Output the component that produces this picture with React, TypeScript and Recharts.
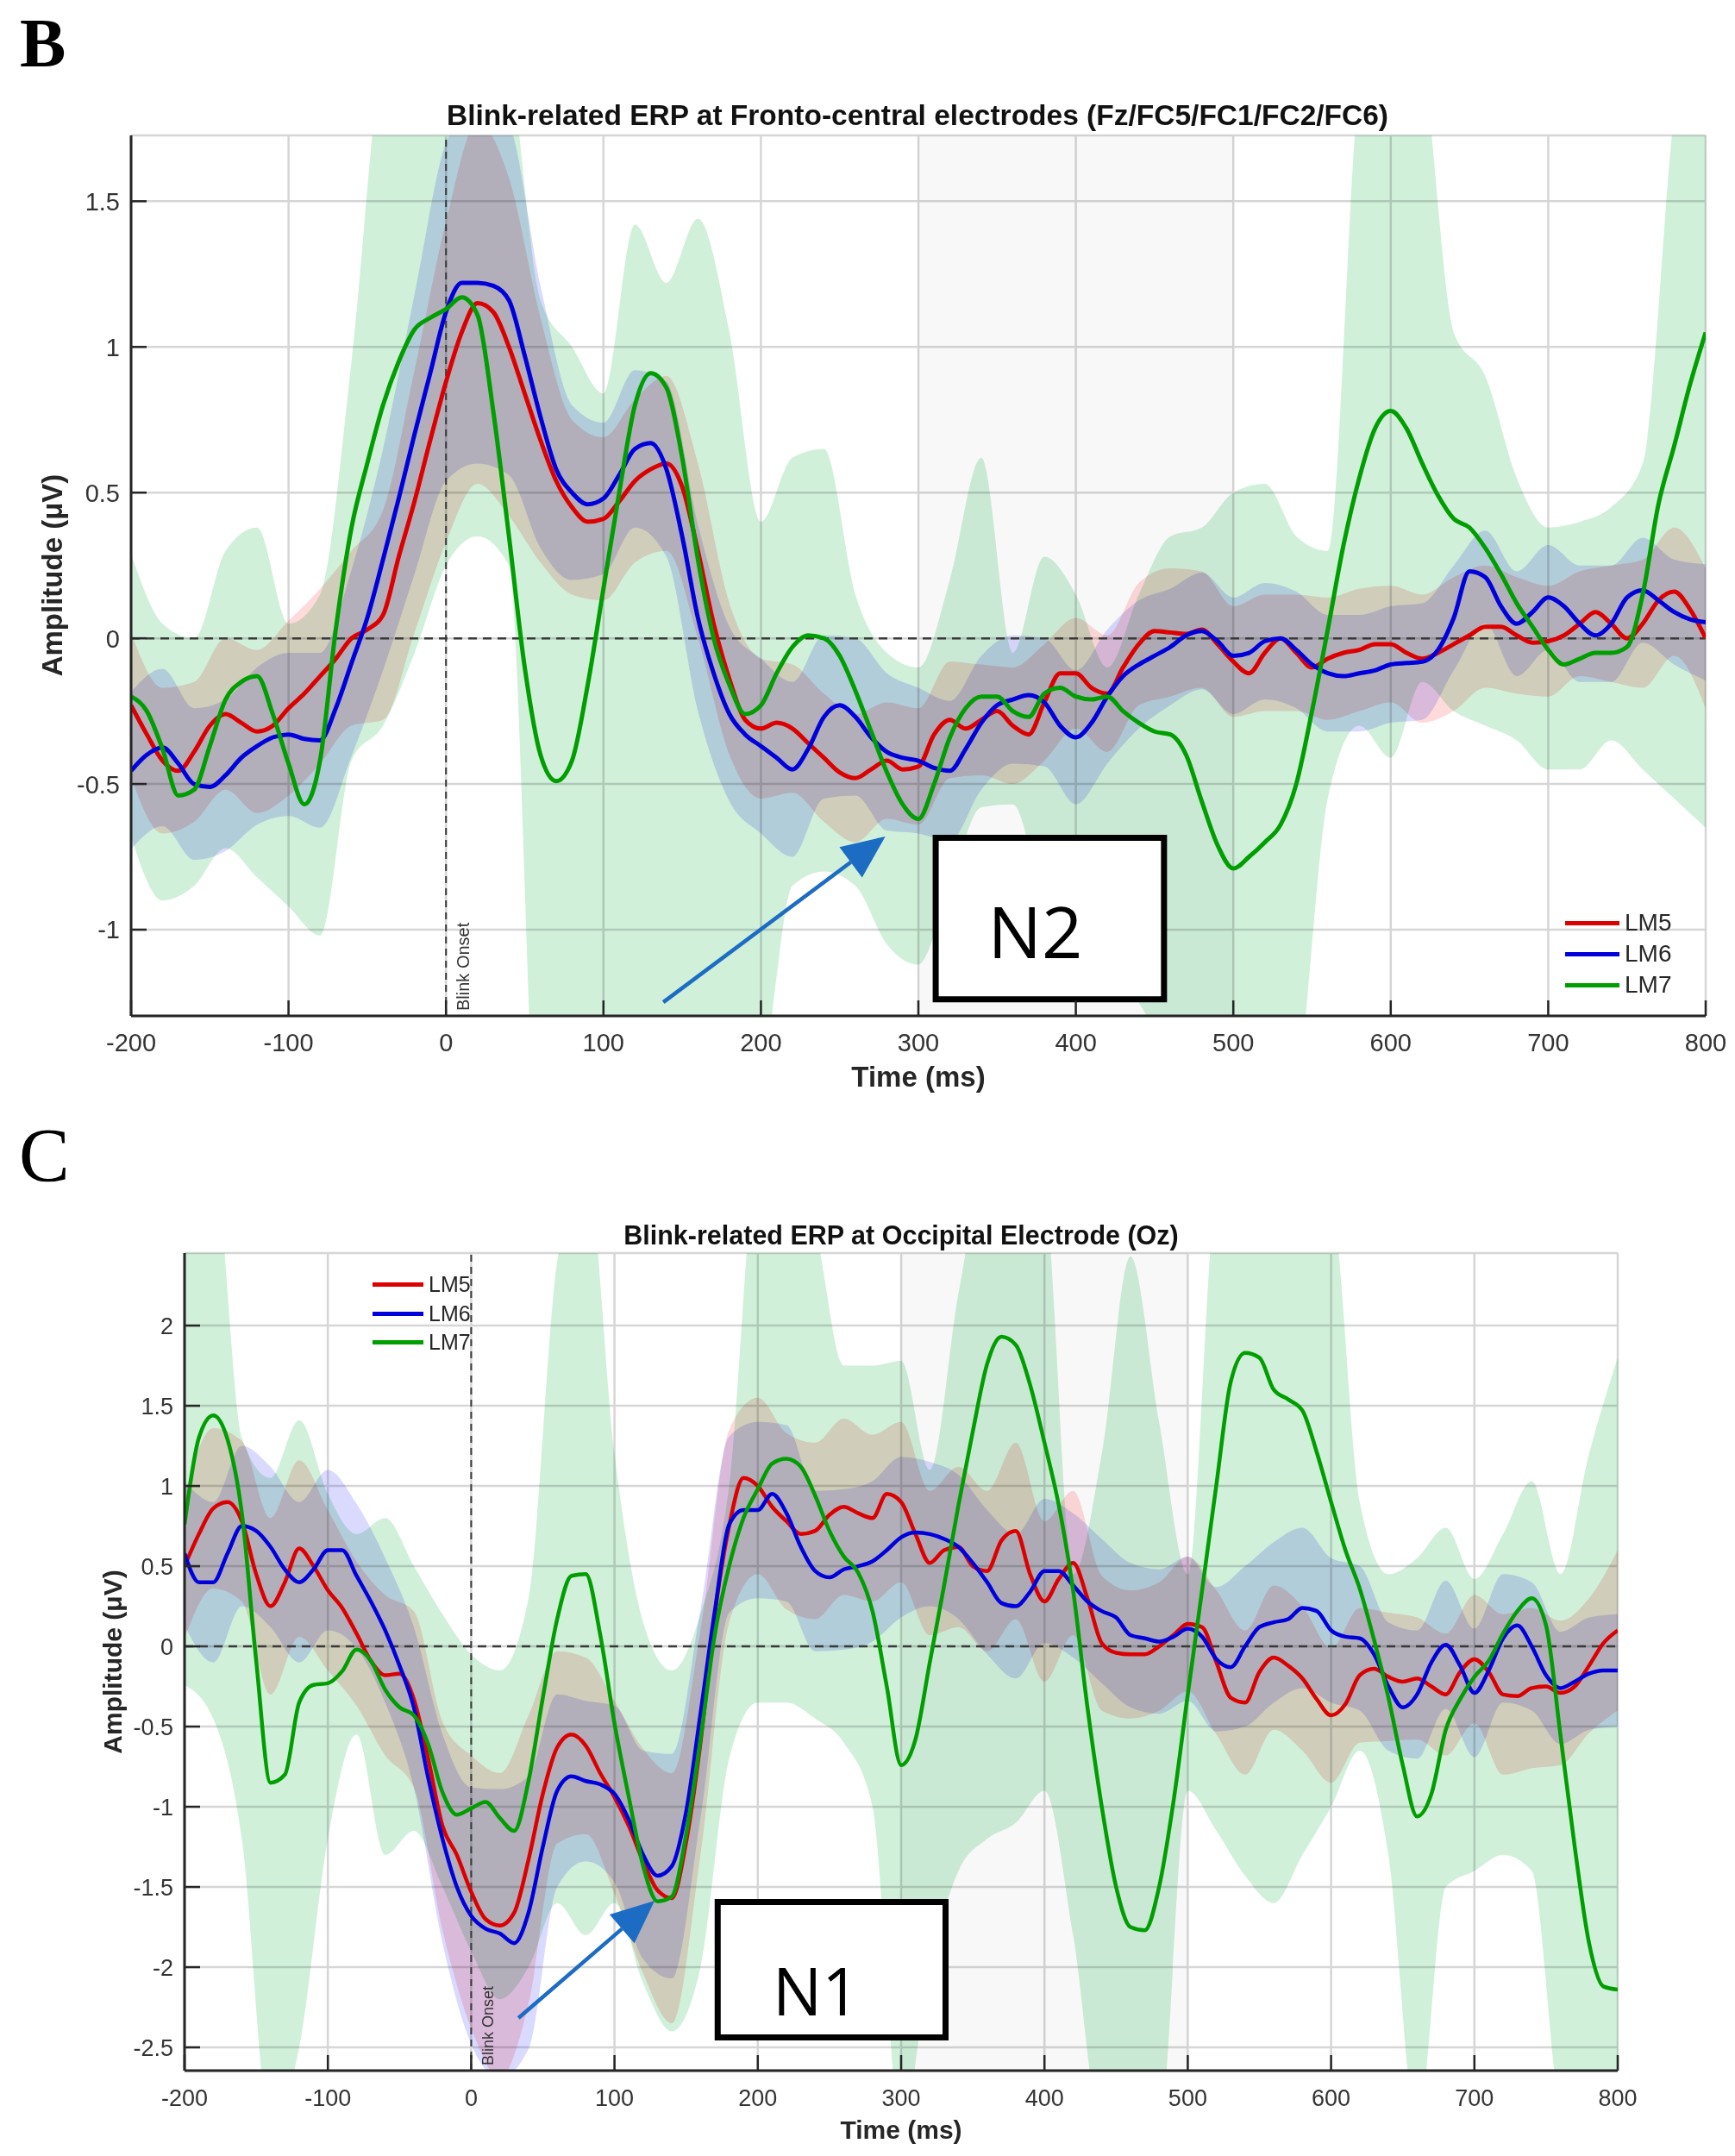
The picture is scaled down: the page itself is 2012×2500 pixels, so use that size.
import React from "react";
import {
  ComposedChart,
  Line,
  Area,
  XAxis,
  YAxis,
  CartesianGrid,
  ReferenceLine,
  ReferenceArea,
  Legend,
} from "recharts";

const SANS = "'Liberation Sans', Arial, Helvetica, sans-serif";
const SERIF = "'Liberation Serif', 'Times New Roman', serif";
const BOX_FONT = "'Open Sans', 'Noto Sans', sans-serif";
const AXIS = "#262626";
const TICK_TEXT = "#333";
const ARROW = "#1c6cc4";

// averages are sampled every 10 ms, the shaded error bands every 20 ms
const TIME_MS = Array.from({ length: 101 }, (_, i) => -200 + i * 10);
const BAND_MS = Array.from({ length: 51 }, (_, i) => -200 + i * 20);

const X_TICKS = [-200, -100, 0, 100, 200, 300, 400, 500, 600, 700, 800];
const B_Y_TICKS = [-1, -0.5, 0, 0.5, 1, 1.5];
const C_Y_TICKS = [-2.5, -2, -1.5, -1, -0.5, 0, 0.5, 1, 1.5, 2];

const SERIES = [
  { key: "lm5", name: "LM5", color: "#dd0000", band: "#ffdada" },
  { key: "lm6", name: "LM6", color: "#0000dd", band: "#dadaff" },
  { key: "lm7", name: "LM7", color: "#009e00", band: "#d0f0da" },
];

// ---- B: fronto-central electrodes ----
const B_LM5 = [
  -0.23, -0.33, -0.42, -0.455, -0.39, -0.3, -0.26, -0.29, -0.32, -0.3,
  -0.24, -0.19, -0.13, -0.07, 0.0, 0.03, 0.08, 0.28, 0.47, 0.68,
  0.88, 1.05, 1.15, 1.12, 1.0, 0.84, 0.68, 0.54, 0.45, 0.4,
  0.41, 0.47, 0.54, 0.58, 0.6, 0.52, 0.3, 0.05, -0.14, -0.28,
  -0.31, -0.29, -0.31, -0.36, -0.41, -0.46, -0.48, -0.45, -0.42, -0.45,
  -0.44, -0.33, -0.28, -0.31, -0.28, -0.25, -0.3, -0.33, -0.22, -0.12,
  -0.12, -0.17, -0.19, -0.1, -0.02, 0.025, 0.02, 0.015, 0.03, -0.02,
  -0.08, -0.12, -0.05, 0.0, -0.05, -0.1, -0.07, -0.05, -0.04, -0.02,
  -0.02, -0.05, -0.07, -0.05, -0.02, 0.01, 0.04, 0.04, 0.01, -0.015,
  -0.01, 0.01, 0.05, 0.09, 0.05, 0.0, 0.05, 0.13, 0.16, 0.1,
  0.0,
];
const B_LM6 = [
  -0.455, -0.4, -0.375, -0.43, -0.5, -0.51, -0.47, -0.41, -0.37, -0.34,
  -0.33, -0.345, -0.35, -0.24, -0.085, 0.07, 0.27, 0.48, 0.7, 0.91,
  1.12, 1.22, 1.22, 1.21, 1.16, 0.97, 0.76, 0.58, 0.5, 0.46,
  0.48, 0.56, 0.65, 0.67, 0.58, 0.35, 0.07, -0.12, -0.26, -0.33,
  -0.37, -0.41, -0.45, -0.38, -0.27, -0.23, -0.27, -0.34, -0.39, -0.41,
  -0.42, -0.445, -0.455, -0.38, -0.29, -0.23, -0.21, -0.195, -0.22, -0.3,
  -0.34, -0.29, -0.2, -0.13, -0.09, -0.06, -0.03, 0.01, 0.025, -0.01,
  -0.06, -0.05, -0.01, 0.0, -0.04, -0.09, -0.12, -0.13, -0.12, -0.11,
  -0.09, -0.085, -0.08, -0.04, 0.07, 0.23, 0.21, 0.11, 0.05, 0.09,
  0.14, 0.11, 0.05, 0.01, 0.05, 0.14, 0.165, 0.13, 0.09, 0.065,
  0.055,
];
const B_LM7 = [
  -0.2, -0.25, -0.38, -0.54, -0.52, -0.37, -0.21, -0.15, -0.13, -0.26,
  -0.43, -0.57, -0.42, 0.03, 0.38, 0.6, 0.8, 0.95, 1.06, 1.1,
  1.13, 1.17, 1.11, 0.78, 0.35, -0.1, -0.4, -0.49, -0.42, -0.16,
  0.17, 0.5, 0.8, 0.91, 0.86, 0.62, 0.27, 0.0, -0.16, -0.26,
  -0.23, -0.12, -0.03, 0.01, 0.0, -0.06, -0.18, -0.32, -0.46, -0.57,
  -0.62, -0.5, -0.34, -0.24, -0.2, -0.2, -0.25, -0.27, -0.19, -0.17,
  -0.2, -0.21, -0.2, -0.25, -0.29, -0.32, -0.33, -0.4, -0.56, -0.71,
  -0.79, -0.75, -0.7, -0.64, -0.5, -0.25, 0.03, 0.32, 0.55, 0.72,
  0.78, 0.72, 0.6, 0.49, 0.41, 0.38, 0.31, 0.22, 0.12, 0.04,
  -0.04, -0.09, -0.07, -0.05, -0.05, -0.03, 0.15, 0.46, 0.66, 0.87,
  1.05,
];
const B_LM5_SE = [
  0.25, 0.25, 0.24, 0.26, 0.28, 0.3, 0.3, 0.3, 0.36, 0.45,
  0.55, 0.62, 0.58, 0.42, 0.3, 0.28, 0.28, 0.3, 0.3, 0.26,
  0.24, 0.22, 0.22, 0.22, 0.2, 0.2, 0.2, 0.19, 0.2, 0.2,
  0.19, 0.2, 0.21, 0.22, 0.2, 0.19, 0.2, 0.2, 0.21, 0.21,
  0.2, 0.22, 0.23, 0.21, 0.2, 0.19, 0.18, 0.2, 0.22, 0.22,
  0.24,
];
const B_LM6_SE = [
  0.27, 0.27, 0.26, 0.26, 0.27, 0.28, 0.3, 0.32, 0.38, 0.48,
  0.58, 0.62, 0.6, 0.45, 0.3, 0.26, 0.27, 0.3, 0.32, 0.3,
  0.3, 0.3, 0.28, 0.27, 0.27, 0.25, 0.24, 0.23, 0.22, 0.22,
  0.23, 0.23, 0.22, 0.2, 0.2, 0.2, 0.2, 0.2, 0.2, 0.2,
  0.2, 0.2, 0.18, 0.16, 0.18, 0.18, 0.2, 0.2, 0.18, 0.18,
  0.2,
];
const B_LM7_HI = [
  0.29, 0.05, 0.0, 0.3, 0.38, 0.05, 0.15, 0.95, 2.0, 2.2,
  2.3, 2.3, 2.0, 1.16, 1.0, 0.84, 1.42, 1.22, 1.44, 1.05,
  0.4, 0.62, 0.65, 0.15, -0.05, -0.1, 0.2, 0.62, -0.05, 0.28,
  0.15, -0.1, 0.15, 0.35, 0.38, 0.5, 0.53, 0.35, 0.3, 1.9,
  2.3, 2.0, 1.05, 0.9, 0.55, 0.38, 0.4, 0.45, 0.6, 1.8,
  2.4,
];
const B_LM7_LO = [
  -0.68, -0.9, -0.85, -0.72, -0.82, -0.92, -1.02, -0.42, -0.3, -0.05,
  0.25, 0.35, 0.25, -2.0, -2.2, -2.0, -1.8, -1.6, -1.5, -1.6,
  -1.5, -0.85, -0.8, -0.85, -1.05, -1.12, -0.85, -0.58, -0.57, -0.9,
  -1.0, -1.1, -1.25, -1.45, -1.65, -1.9, -1.8, -1.55, -0.55, -0.3,
  -0.41, -0.15, -0.25, -0.3, -0.35, -0.45, -0.45, -0.35, -0.45, -0.55,
  -0.65,
];

// ---- C: occipital electrode ----
const C_LM5 = [
  0.5, 0.7, 0.86, 0.9, 0.78, 0.45, 0.25, 0.4, 0.61, 0.5,
  0.35, 0.24, 0.08, -0.09, -0.18, -0.17, -0.33, -0.7, -1.12, -1.3,
  -1.53, -1.7, -1.74, -1.66, -1.33, -0.92, -0.63, -0.55, -0.62, -0.79,
  -0.94, -1.12, -1.34, -1.52, -1.57, -1.22, -0.6, 0.2, 0.75, 1.05,
  1.0, 0.87, 0.78, 0.7, 0.72, 0.82, 0.87, 0.83, 0.8, 0.95,
  0.9, 0.7, 0.52, 0.6, 0.62, 0.5, 0.47, 0.66, 0.72, 0.45,
  0.28, 0.42, 0.52, 0.3, 0.02, -0.04, -0.05, -0.05, 0.0, 0.07,
  0.14, 0.12, -0.1, -0.32, -0.35, -0.16, -0.07, -0.12, -0.2, -0.33,
  -0.43, -0.36, -0.18, -0.14, -0.19, -0.22, -0.2, -0.25, -0.3, -0.16,
  -0.08, -0.16, -0.3, -0.31, -0.26, -0.25, -0.29, -0.25, -0.12, 0.02,
  0.1,
];
const C_LM6 = [
  0.58, 0.4, 0.4, 0.58, 0.75, 0.72, 0.62, 0.48, 0.4, 0.48,
  0.6, 0.6, 0.44, 0.28, 0.1, -0.12, -0.38, -0.82, -1.2, -1.5,
  -1.68, -1.76, -1.79, -1.85, -1.66, -1.25, -0.9, -0.81, -0.84, -0.86,
  -0.92, -1.08, -1.3, -1.43, -1.37, -1.03, -0.42, 0.22, 0.76, 0.85,
  0.85, 0.95, 0.83, 0.62, 0.47, 0.43, 0.48, 0.5, 0.53, 0.6,
  0.68, 0.71, 0.7, 0.67, 0.62, 0.52, 0.4, 0.27, 0.25, 0.34,
  0.47, 0.47, 0.38, 0.28, 0.22, 0.18, 0.07, 0.05, 0.03, 0.06,
  0.11, 0.06, -0.08, -0.13, 0.0, 0.12, 0.15, 0.17, 0.24, 0.22,
  0.1, 0.06, 0.05, -0.05, -0.25, -0.38, -0.3, -0.1, 0.01, -0.12,
  -0.29, -0.15, 0.05, 0.13, 0.0, -0.18, -0.26, -0.22, -0.17, -0.15,
  -0.15,
];
const C_LM7 = [
  0.76, 1.3, 1.44, 1.29, 0.83, -0.09, -0.85, -0.8, -0.35, -0.24,
  -0.23, -0.155, -0.02, -0.09, -0.27, -0.38, -0.43, -0.61, -0.91, -1.05,
  -1.01, -0.97, -1.07, -1.15, -0.84, -0.32, 0.17, 0.44, 0.45, 0.075,
  -0.48, -0.94, -1.37, -1.59, -1.56, -1.17, -0.58, 0.075, 0.5, 0.8,
  0.98, 1.14, 1.17, 1.12, 0.94, 0.72, 0.56, 0.46, 0.22, -0.25,
  -0.74, -0.58, -0.1, 0.38, 0.88, 1.34, 1.76, 1.93, 1.88, 1.63,
  1.27, 0.88, 0.35, -0.38, -1.0, -1.5, -1.75, -1.77, -1.5, -0.97,
  -0.3, 0.35, 1.01, 1.65, 1.83, 1.8, 1.6, 1.54, 1.47, 1.21,
  0.9, 0.6, 0.36, 0.04, -0.32, -0.74, -1.06, -0.92, -0.52, -0.33,
  -0.19, -0.09, 0.08, 0.22, 0.3, 0.13, -0.55, -1.25, -1.85, -2.12,
  -2.14,
];
const C_LM5_SE = [
  0.45, 0.5, 0.5, 0.55, 0.55, 0.5, 0.45, 0.5, 0.55, 0.65,
  0.85, 0.95, 0.9, 0.6, 0.55, 0.6, 0.7, 0.78, 0.7, 0.6,
  0.55, 0.55, 0.55, 0.55, 0.52, 0.5, 0.45, 0.5, 0.5, 0.55,
  0.5, 0.45, 0.42, 0.4, 0.4, 0.42, 0.45, 0.45, 0.45, 0.45,
  0.42, 0.42, 0.4, 0.38, 0.38, 0.4, 0.5, 0.5, 0.45, 0.42,
  0.5,
];
const C_LM6_SE = [
  0.45, 0.5, 0.5, 0.5, 0.5, 0.5, 0.45, 0.45, 0.5, 0.65,
  0.8, 0.9, 0.85, 0.6, 0.5, 0.55, 0.65, 0.7, 0.65, 0.55,
  0.55, 0.55, 0.5, 0.5, 0.5, 0.5, 0.45, 0.45, 0.45, 0.45,
  0.45, 0.45, 0.45, 0.45, 0.45, 0.45, 0.45, 0.5, 0.5, 0.5,
  0.45, 0.45, 0.4, 0.4, 0.4, 0.4, 0.4, 0.4, 0.35, 0.35,
  0.35,
];
const C_LM7_HI = [
  3.0, 3.0, 1.3, 1.05, 1.41, 0.95, 0.7, 0.8, 0.5, 0.2,
  -0.05, -0.15, 0.3, 2.4, 3.0, 1.2, 0.15, -0.15, 0.2, 1.0,
  3.0, 3.0, 2.6, 1.75, 1.75, 1.78, 1.1, 2.2, 3.0, 3.0,
  2.8, 0.45, 1.2, 2.43, 1.4, 0.45, 2.8, 3.0, 3.0, 3.0,
  2.8, 0.9, 0.45, 0.55, 0.74, 0.42, 0.7, 1.03, 0.45, 1.2,
  1.8,
];
const C_LM7_LO = [
  -0.24, -0.45, -1.2, -3.0, -2.5, -1.2, -0.55, -1.3, -1.15, -1.5,
  -1.9, -2.2, -2.0, -1.6, -1.8, -1.6, -2.1, -2.4, -2.0, -0.7,
  -0.35, -0.35, -0.45, -0.6, -1.0, -3.0, -2.0, -1.4, -1.2, -1.1,
  -0.9, -1.8, -3.0, -3.0, -3.0, -0.9, -1.15, -1.43, -1.6, -1.3,
  -1.0, -0.65, -1.3, -3.0, -1.5, -1.4, -1.3, -1.4, -2.9, -3.2,
  -3.0,
];

type Row = { t: number; lm5: number; lm6: number; lm7: number };
type BandRow = { t: number; lm5: number[]; lm6: number[]; lm7: number[] };

const toLineRows = (a: number[], b: number[], c: number[]): Row[] =>
  TIME_MS.map((t, i) => ({ t, lm5: a[i], lm6: b[i], lm7: c[i] }));

// red and blue bands are mean ± SE, green band edges are read directly
const toBandRows = (
  a: number[], aSe: number[], b: number[], bSe: number[], cHi: number[], cLo: number[]
): BandRow[] =>
  BAND_MS.map((t, i) => ({
    t,
    lm5: [a[i * 2] - aSe[i], a[i * 2] + aSe[i]],
    lm6: [b[i * 2] - bSe[i], b[i * 2] + bSe[i]],
    lm7: [cLo[i], cHi[i]],
  }));

type Margin = { top: number; right: number; bottom: number; left: number };
type Pt = { x: number; y: number };

interface PanelSpec {
  top: number;
  height: number;
  margin: Margin;
  yDomain: [number, number];
  yTicks: number[];
  lineRows: Row[];
  bandRows: BandRow[];
  tickFont: number;
  lineWidth: number;
  onsetFont: number;
  onsetDx: number;
  legend: { left: number; top: number; font: number; rowH: number; lineLen: number };
  box: { x1: number; x2: number; y1: number; y2: number; text: string; font: number; dx: number; dy: number };
  arrow: [Pt, Pt];
}

const Y_AXIS_W = 100;
const X_AXIS_H = 60;

const ArrowShape = (props: any) => {
  const { x1, y1, x2, y2 } = props;
  const a = Math.atan2(y2 - y1, x2 - x1);
  const len = 50;
  const half = 22;
  const bx = x2 - len * Math.cos(a);
  const by = y2 - len * Math.sin(a);
  const nx = -Math.sin(a) * half;
  const ny = Math.cos(a) * half;
  return (
    <g>
      <line x1={x1} y1={y1} x2={bx} y2={by} stroke={ARROW} strokeWidth={4.5} />
      <polygon points={`${x2},${y2} ${bx + nx},${by + ny} ${bx - nx},${by - ny}`} fill={ARROW} />
    </g>
  );
};

function ErpPanel({ spec }: { spec: PanelSpec }) {
  const plotLeft = spec.margin.left + Y_AXIS_W;
  const plotBottom = spec.height - spec.margin.bottom - X_AXIS_H;

  // MATLAB style: tick marks point into the axes
  const XTick = (props: any) => (
    <g>
      <line x1={props.x} x2={props.x} y1={plotBottom} y2={plotBottom - 18} stroke={AXIS} strokeWidth={2.5} />
      <text x={props.x} y={plotBottom + 31} dy="0.36em" textAnchor="middle"
        fontFamily={SANS} fontSize={spec.tickFont} fill={TICK_TEXT}>
        {props.payload.value}
      </text>
    </g>
  );
  const YTick = (props: any) => (
    <g>
      <line x1={plotLeft} x2={plotLeft + 18} y1={props.y} y2={props.y} stroke={AXIS} strokeWidth={2.5} />
      <text x={plotLeft - 13} y={props.y} dy="0.36em" textAnchor="end"
        fontFamily={SANS} fontSize={spec.tickFont} fill={TICK_TEXT}>
        {props.payload.value}
      </text>
    </g>
  );

  const onsetLabel = (props: any) => {
    const { x, y, height } = props.viewBox;
    return (
      <text transform={`translate(${x + spec.onsetDx},${y + height - 6}) rotate(-90)`} dy="0.35em"
        fontFamily={SANS} fontSize={spec.onsetFont} fill="#333">
        Blink Onset
      </text>
    );
  };

  const boxLabel = (props: any) => {
    const { x, y, width, height } = props.viewBox;
    return (
      <text x={x + width / 2 + spec.box.dx} y={y + height / 2 + spec.box.dy} dy="0.357em"
        textAnchor="middle" fontFamily={BOX_FONT} fontSize={spec.box.font} fill="#000">
        {spec.box.text}
      </text>
    );
  };

  const legendContent = () => (
    <div style={{ fontFamily: SANS, fontSize: spec.legend.font, color: AXIS }}>
      {SERIES.map((s) => (
        <div key={s.key} style={{ display: "flex", alignItems: "center", height: spec.legend.rowH }}>
          <span style={{ display: "inline-block", width: spec.legend.lineLen, height: 5, background: s.color }} />
          <span style={{ marginLeft: 6, lineHeight: 1 }}>{s.name}</span>
        </div>
      ))}
    </div>
  );

  return (
    <div style={{ position: "absolute", left: 0, top: spec.top }}>
      <ComposedChart width={2012} height={spec.height} margin={spec.margin} data={spec.lineRows}>
        {/* grey analysis window 300-500 ms */}
        <ReferenceArea x1={300} x2={500} fill="#000" fillOpacity={0.028} stroke="none" zIndex={-60} />
        <CartesianGrid stroke="#d6d6d6" strokeWidth={2.5} />
        <XAxis
          dataKey="t"
          type="number"
          domain={[-200, 800]}
          ticks={X_TICKS}
          interval={0}
          allowDataOverflow
          height={X_AXIS_H}
          axisLine={{ stroke: AXIS, strokeWidth: 3 }}
          tickLine={false}
          tick={XTick}
        />
        <YAxis
          type="number"
          domain={spec.yDomain}
          ticks={spec.yTicks}
          interval={0}
          allowDataOverflow
          width={Y_AXIS_W}
          axisLine={{ stroke: AXIS, strokeWidth: 3 }}
          tickLine={false}
          tick={YTick}
        />
        {SERIES.map((s) => (
          <Area
            key={"band-" + s.key}
            className="erp-band"
            data={spec.bandRows}
            dataKey={s.key}
            type="monotone"
            stroke="none"
            fill={s.band}
            fillOpacity={1}
            dot={false}
            activeDot={false}
            isAnimationActive={false}
          />
        ))}
        <ReferenceLine y={0} stroke="#3a3a3a" strokeWidth={2.5} strokeDasharray="10 7" zIndex={300} />
        <ReferenceLine x={0} stroke="#3a3a3a" strokeWidth={2} strokeDasharray="8 6" label={onsetLabel} zIndex={300} />
        {SERIES.map((s) => (
          <Line
            key={s.key}
            dataKey={s.key}
            type="monotone"
            stroke={s.color}
            strokeWidth={spec.lineWidth}
            dot={false}
            activeDot={false}
            isAnimationActive={false}
          />
        ))}
        <ReferenceArea
          x1={spec.box.x1}
          x2={spec.box.x2}
          y1={spec.box.y1}
          y2={spec.box.y2}
          fill="#fff"
          fillOpacity={1}
          stroke="#000"
          strokeWidth={7}
          label={boxLabel}
          zIndex={1500}
        />
        <ReferenceLine segment={spec.arrow} shape={ArrowShape} zIndex={1600} />
        <Legend
          layout="horizontal"
          verticalAlign="middle"
          align="center"
          content={legendContent}
          wrapperStyle={{ left: spec.legend.left, top: spec.legend.top, width: 160, height: 120 }}
        />
      </ComposedChart>
    </div>
  );
}

const PANEL_B: PanelSpec = {
  top: 0,
  height: 1300,
  margin: { top: 157, right: 34, bottom: 62, left: 52 },
  yDomain: [-1.296, 1.726],
  yTicks: B_Y_TICKS,
  lineRows: toLineRows(B_LM5, B_LM6, B_LM7),
  bandRows: toBandRows(B_LM5, B_LM5_SE, B_LM6, B_LM6_SE, B_LM7_HI, B_LM7_LO),
  tickFont: 29,
  lineWidth: 5,
  onsetFont: 20,
  onsetDx: 20,
  legend: { left: 1815, top: 1052, font: 28, rowH: 36, lineLen: 63 },
  box: { x1: 311, x2: 456, y1: -1.239, y2: -0.685, text: "N2", font: 83, dx: -17, dy: 16 },
  arrow: [{ x: 138, y: -1.249 }, { x: 279, y: -0.68 }],
};

const PANEL_C: PanelSpec = {
  top: 1300,
  height: 1200,
  margin: { top: 153, right: 136, bottom: 39, left: 114 },
  yDomain: [-2.645, 2.452],
  yTicks: C_Y_TICKS,
  lineRows: toLineRows(C_LM5, C_LM6, C_LM7),
  bandRows: toBandRows(C_LM5, C_LM5_SE, C_LM6, C_LM6_SE, C_LM7_HI, C_LM7_LO),
  tickFont: 27,
  lineWidth: 4.5,
  onsetFont: 18,
  onsetDx: 19,
  legend: { left: 432, top: 173, font: 25, rowH: 33.5, lineLen: 59 },
  box: { x1: 172, x2: 331, y1: -2.438, y2: -1.594, text: "N1", font: 76, dx: -18, dy: 26 },
  arrow: [{ x: 33, y: -2.317 }, { x: 128, y: -1.586 }],
};

export default function App() {
  return (
    <div style={{ position: "absolute", left: 0, top: 0, width: 2012, height: 2500, background: "#fff", overflow: "hidden" }}>
      <style>{".erp-band { mix-blend-mode: multiply; }"}</style>
      <ErpPanel spec={PANEL_B} />
      <ErpPanel spec={PANEL_C} />
      <svg width={2012} height={2500} style={{ position: "absolute", left: 0, top: 0, pointerEvents: "none" }}>
        <text x={23} y={77} fontFamily={SERIF} fontWeight={700} fontSize={80}>B</text>
        <text x={22} y={1369} fontFamily={SERIF} fontSize={88}>C</text>

        <text x={1064} y={145} textAnchor="middle" fontFamily={SANS} fontWeight={700} fontSize={33.5} fill="#111">
          Blink-related ERP at Fronto-central electrodes (Fz/FC5/FC1/FC2/FC6)
        </text>
        <text x={1065} y={1260} textAnchor="middle" fontFamily={SANS} fontWeight={700} fontSize={33} fill={AXIS}>
          Time (ms)
        </text>
        <text transform="translate(72,667) rotate(-90)" textAnchor="middle" fontFamily={SANS} fontWeight={700} fontSize={33} fill={AXIS}>
          Amplitude (μV)
        </text>

        <text x={1045} y={1443} textAnchor="middle" fontFamily={SANS} fontWeight={700} fontSize={30.5} fill="#111">
          Blink-related ERP at Occipital Electrode (Oz)
        </text>
        <text x={1045} y={2480} textAnchor="middle" fontFamily={SANS} fontWeight={700} fontSize={30} fill={AXIS}>
          Time (ms)
        </text>
        <text transform="translate(141,1927) rotate(-90)" textAnchor="middle" fontFamily={SANS} fontWeight={700} fontSize={30} fill={AXIS}>
          Amplitude (μV)
        </text>
      </svg>
    </div>
  );
}
